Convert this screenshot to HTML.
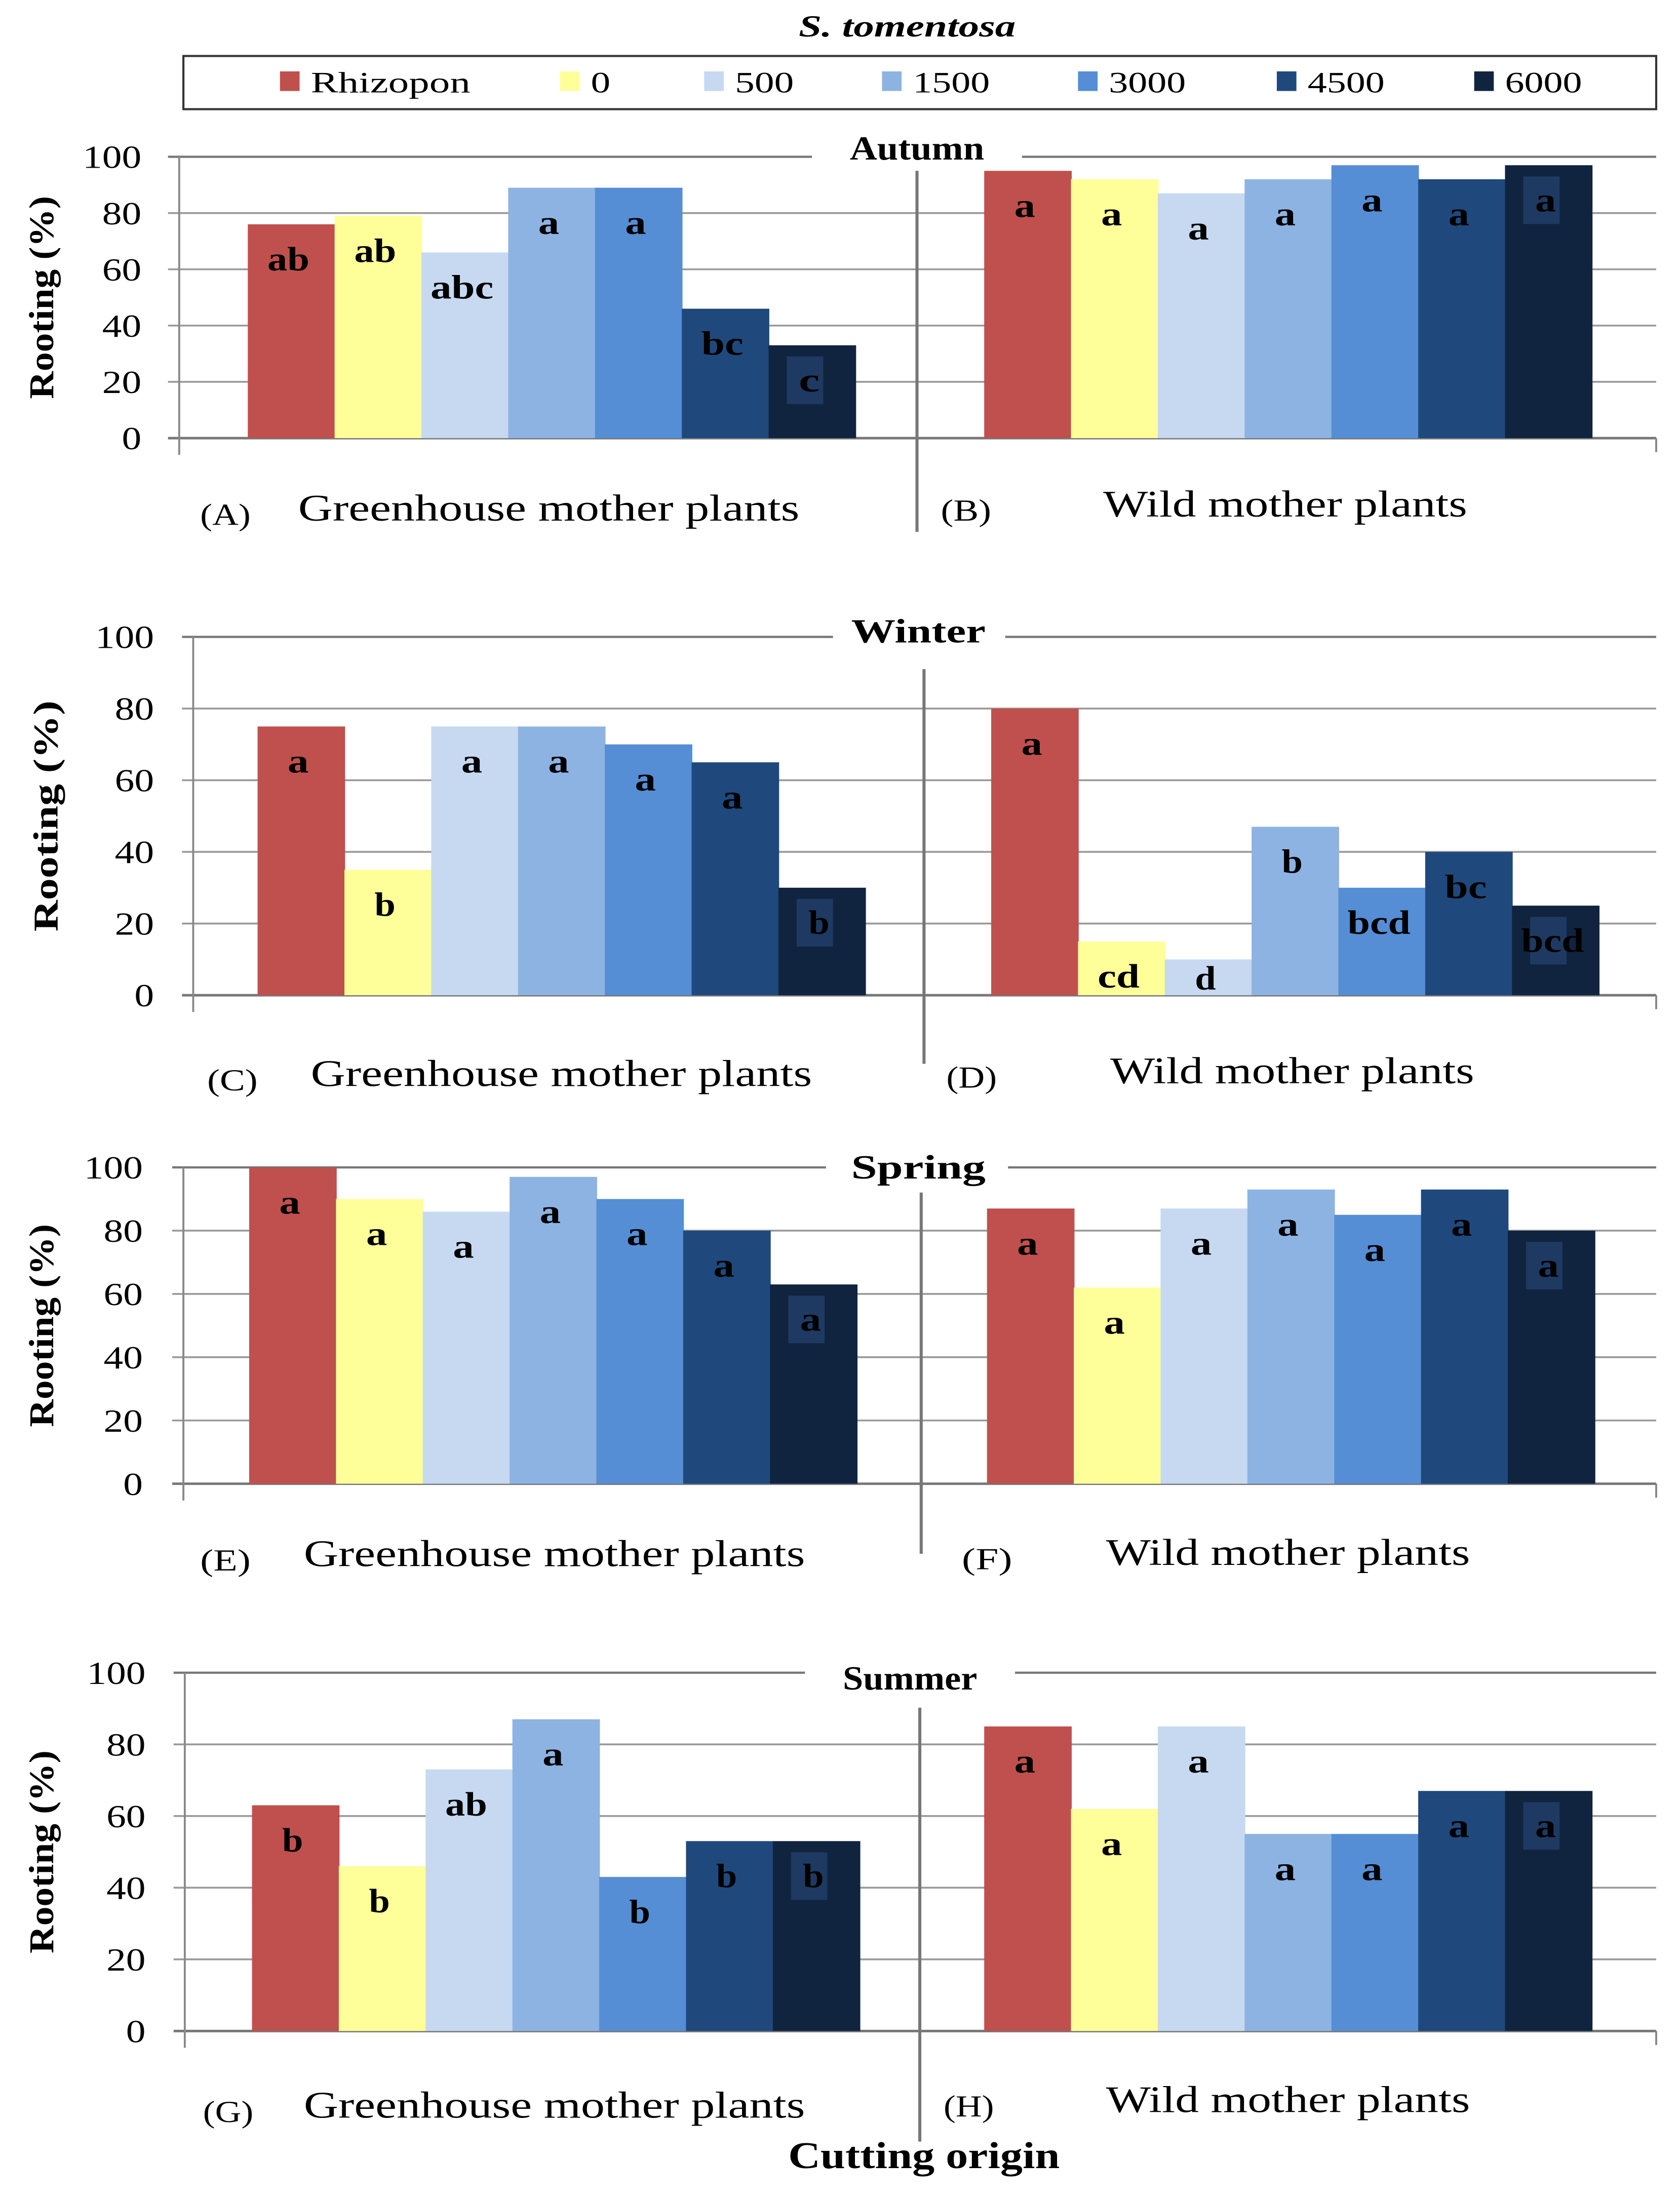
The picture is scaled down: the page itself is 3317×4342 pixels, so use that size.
<!DOCTYPE html>
<html><head><meta charset="utf-8"><style>
html,body{margin:0;padding:0;background:#fff;}
svg{display:block;font-family:"Liberation Serif",serif;}
</style></head><body>
<svg id="chart" xmlns="http://www.w3.org/2000/svg" width="3317" height="4342" viewBox="0 0 1200 1571" preserveAspectRatio="none">
<text x="648" y="26" text-anchor="middle" font-size="22" font-style="italic" font-weight="bold" textLength="155" lengthAdjust="spacingAndGlyphs">S. tomentosa</text>
<g id="legend">
<rect x="131" y="40" width="1052" height="38" fill="none" stroke="#333" stroke-width="1.5"/>
</g>
<g id="panels"></g>
<text x="660" y="1549" text-anchor="middle" font-size="27" font-weight="bold" textLength="194" lengthAdjust="spacingAndGlyphs">Cutting origin</text>
</svg>
<script>
const seriesNames = ["Rhizopon","0","500","1500","3000","4500","6000"];
const colors = ["#C0504D","#FFFF99","#C6D9F1","#8DB3E2","#558ED5","#1F497D","#10243F"];
const yTicks = [0,20,40,60,80,100];
const seasons = ["Autumn","Winter","Spring","Summer"];
const autumnGreenhouse = [76,79,66,89,89,46,33];
const autumnWild = [95,92,87,92,97,92,97];
const winterGreenhouse = [75,35,75,75,70,65,30];
const winterWild = [80,15,10,47,30,40,25];
const springGreenhouse = [100,90,86,97,90,80,63];
const springWild = [87,62,87,93,85,93,80];
const summerGreenhouse = [63,46,73,87,43,53,53];
const summerWild = [85,62,85,55,55,67,67];
const autumnGreenhouseLetters = ["ab","ab","abc","a","a","bc","c"];
const autumnWildLetters = ["a","a","a","a","a","a","a"];
const winterGreenhouseLetters = ["a","b","a","a","a","a","b"];
const winterWildLetters = ["a","cd","d","b","bcd","bc","bcd"];
const springGreenhouseLetters = ["a","a","a","a","a","a","a"];
const springWildLetters = ["a","a","a","a","a","a","a"];
const summerGreenhouseLetters = ["b","b","ab","a","b","b","b"];
const summerWildLetters = ["a","a","a","a","a","a","a"];
const panelLabels = [["(A)","(B)"],["(C)","(D)"],["(E)","(F)"],["(G)","(H)"]];

const NS="http://www.w3.org/2000/svg";
const svg=document.getElementById('chart');
function mk(tag,attrs,parent){const e=document.createElementNS(NS,tag);for(const k in attrs)e.setAttribute(k,attrs[k]);(parent||svg).appendChild(e);return e;}
function stretch(t,len){t.setAttribute('textLength',len);t.setAttribute('lengthAdjust','spacingAndGlyphs');}

const legendG=document.getElementById('legend');
const legX=[200,400,503,630,770,912,1053];
const legW=[114,14,42,55,55,55,55];
seriesNames.forEach((n,i)=>{
  const r=mk('rect',{x:legX[i],y:51,width:14,height:14,fill:colors[i]},legendG);
  
  
  const t=mk('text',{x:legX[i]+22,y:66,'font-size':21},legendG);
  t.textContent=n;
  stretch(t,legW[i]);
  
  
});

const layout=[
 {top:112,bot:313,ax:128,gx:[177,703],div:[655,122,380],title:[655,114],gap:[580,730],lblY:[375,372],lblX:[[143,213],[672,788]],tickX:101,ytX:30},
 {top:455,bot:711,ax:138,gx:[184,708],div:[660,478,760],title:[656,459],gap:[595,718],lblY:[779,777],lblX:[[148,222],[676,793]],tickX:110,ytX:33},
 {top:834,bot:1060,ax:131,gx:[178,705],div:[658,852,1110],title:[656,842],gap:[590,720],lblY:[1122,1121],lblX:[[143,217],[687,790]],tickX:102,ytX:30},
 {top:1195,bot:1451,ax:132,gx:[180,703],div:[657,1220,1530],title:[650,1207],gap:[575,725],lblY:[1516,1512],lblX:[[145,217],[674,790]],tickX:104,ytX:30}
];
const data=[[autumnGreenhouse,autumnWild],[winterGreenhouse,winterWild],[springGreenhouse,springWild],[summerGreenhouse,summerWild]];
const letters=[[autumnGreenhouseLetters,autumnWildLetters],[winterGreenhouseLetters,winterWildLetters],[springGreenhouseLetters,springWildLetters],[summerGreenhouseLetters,summerWildLetters]];
const RIGHT=1183, BW=62;
const panelsG=document.getElementById('panels');
layout.forEach((L,p)=>{
  const g=mk('g',{},panelsG);
  
  
  const y=v=>L.bot-(v/100)*(L.bot-L.top);
  yTicks.forEach(v=>{
    const yy=y(v);
    if(v===100){
      const a=mk('line',{x1:L.ax-8,x2:L.gap[0],y1:yy,y2:yy,stroke:'#777','stroke-width':1.6},g);
       
      const b=mk('line',{x1:L.gap[1],x2:RIGHT,y1:yy,y2:yy,stroke:'#777','stroke-width':1.6},g);
       
    } else {
      const a=mk('line',{x1:L.ax-8,x2:RIGHT,y1:yy,y2:yy,stroke:v===0?'#777':'#999','stroke-width':v===0?1.8:1.3},g);
       
    }
    const t=mk('text',{x:L.tickX,y:yy+8,'text-anchor':'end','font-size':23},g);
    t.textContent=v;
    stretch(t,String(v).length*14);
     
  });
  const ax=mk('line',{x1:L.ax,x2:L.ax,y1:L.top,y2:L.bot+12,stroke:'#888','stroke-width':1.4},g);
   
  const rx=mk('line',{x1:RIGHT,x2:RIGHT,y1:L.bot,y2:L.bot+10,stroke:'#888','stroke-width':1.4},g);
   
  const dv=mk('line',{x1:L.div[0],x2:L.div[0],y1:L.div[1],y2:L.div[2],stroke:'#777','stroke-width':2.2},g);
   
  const tt=mk('text',{x:L.title[0],y:L.title[1],'text-anchor':'middle','font-size':24,'font-weight':'bold'},g);
  tt.textContent=seasons[p];
  stretch(tt,seasons[p].length*16);
   
  const cy=(L.top+L.bot)/2;
  const yt=mk('text',{x:L.ytX,y:cy,'text-anchor':'middle','font-size':25,'font-weight':'bold',transform:`rotate(-90 ${L.ytX} ${cy}) translate(0 8)`},g);
  yt.textContent='Rooting (%)';
  stretch(yt,p===1?165:145);
   
  [0,1].forEach(k=>{
    const vals=data[p][k], lets=letters[p][k];
    vals.forEach((v,i)=>{
      const x=L.gx[k]+i*BW, top=y(v);
      const r=mk('rect',{x:x,y:top,width:BW+0.5,height:L.bot-top,fill:colors[i]},g);
      
      
      if(i===6){
        const bx=mk('rect',{x:x+13,y:top+8,width:26,height:Math.min(34,L.bot-top-10),fill:'#1E3A62'},g);
         
      }
      const by=Math.min(top+33,L.bot-4);
      const t=mk('text',{x:x+BW/2-2,y:by,'text-anchor':'middle','font-size':24,'font-weight':'bold',fill:'#000'},g);
      t.textContent=lets[i];
      stretch(t,lets[i].length*15);
       
    });
    const pl=mk('text',{x:L.lblX[k][0],y:L.lblY[k],'font-size':22},g);
    pl.textContent=panelLabels[p][k];
    stretch(pl,36);
     
    const gl=mk('text',{x:L.lblX[k][1],y:L.lblY[k]-3,'font-size':27},g);
    gl.textContent=k?'Wild mother plants':'Greenhouse mother plants';
    stretch(gl,k?260:358);
     
  });
});
</script>
</body></html>
